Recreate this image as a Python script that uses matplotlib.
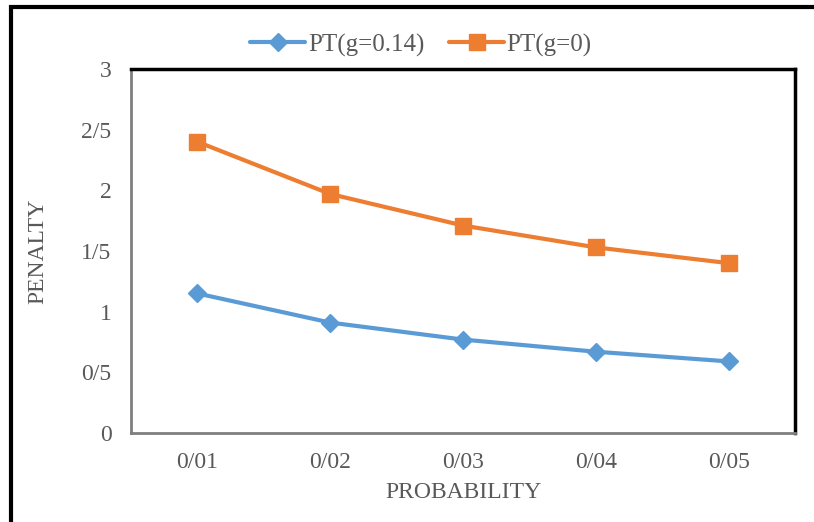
import matplotlib.pyplot as plt
from matplotlib.patches import Rectangle

categories = ["0/01", "0/02", "0/03", "0/04", "0/05"]
pt_g014 = [1.15, 0.91, 0.77, 0.67, 0.59]
pt_g0 = [2.40, 1.97, 1.71, 1.53, 1.40]
y_ticks = [0, 0.5, 1, 1.5, 2, 2.5, 3]
y_labels = ["0", "0/5", "1", "1/5", "2", "2/5", "3"]

plt.rcParams["font.family"] = ["Liberation Serif", "DejaVu Serif"]
gray = "#595959"

fig = plt.figure(figsize=(8.14, 5.22), dpi=100)
ax = fig.add_axes([131 / 814, 1 - 433 / 522, 664 / 814, 364 / 522])

x = list(range(len(categories)))
ax.plot(x, pt_g014, color="#5B9BD5", lw=3, marker="D", markersize=9,
        label="PT(g=0.14)", solid_capstyle="round")
ax.plot(x, pt_g0, color="#ED7D31", lw=3, marker="s", markersize=12,
        label="PT(g=0)", solid_capstyle="round")

ax.set_xlim(-0.5, 4.5)
ax.set_ylim(0, 3)
ax.set_xticks(x)
ax.set_xticklabels(categories, color=gray, fontsize=17)
ax.set_yticks(y_ticks)
ax.set_yticklabels(y_labels, color=gray, fontsize=17)
ax.tick_params(axis="y", length=0, pad=14)
ax.tick_params(axis="x", length=0, pad=14)

for s in ["top", "right"]:
    ax.spines[s].set_color("black")
    ax.spines[s].set_linewidth(2.5)
for s in ["left", "bottom"]:
    ax.spines[s].set_color("#7f7f7f")
    ax.spines[s].set_linewidth(2)

ax.set_ylabel("PENALTY", color=gray, fontsize=17)
ax.set_xlabel("PROBABILITY", color=gray, fontsize=17)
ax.yaxis.set_label_coords((38 - 131) / 664, 0.5)
ax.xaxis.set_label_coords(0.5, -(493 - 433) / 364)
ax.yaxis.label.set_va("center")
ax.xaxis.label.set_va("center")

# legend sits a bit left of the plot centre
ax.legend(loc="center", bbox_to_anchor=((421 - 131) / 664, (433 - 45) / 364),
          ncol=2, frameon=False, fontsize=18, labelcolor=gray,
          handlelength=2.2, columnspacing=1.0, handletextpad=0.1)

# frame around the whole picture
fig.patches.append(Rectangle((11 / 814, -0.05), 1.1, 1 - 7 / 522 + 0.05,
                             transform=fig.transFigure, fill=False,
                             edgecolor="black", lw=3))

fig.savefig("out.png", dpi=100)
